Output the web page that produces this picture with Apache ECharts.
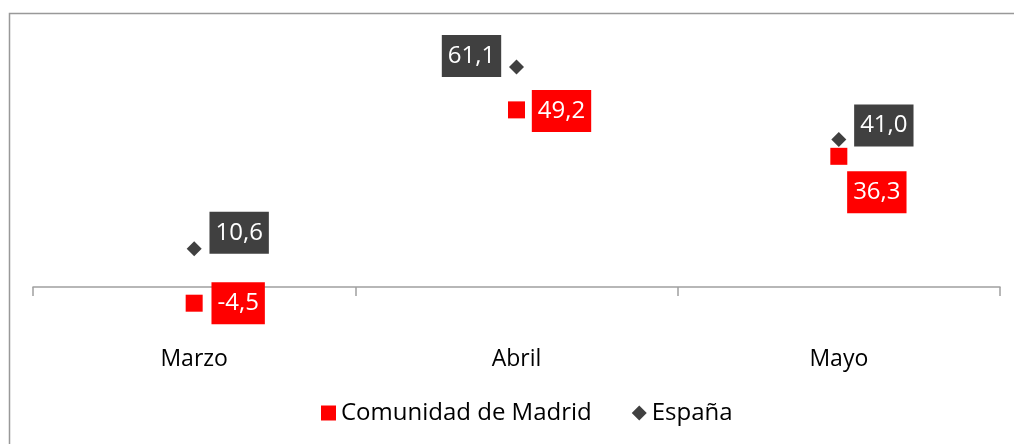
<!DOCTYPE html>
<html>
<head>
    <meta charset="UTF-8">
    <title>Madrid vs España</title>
    <script src="https://cdn.jsdelivr.net/npm/echarts@6/dist/echarts.min.js"></script>
    <style>
        html, body { margin: 0; padding: 0; background: #fff; }
        #chart { width: 1014px; height: 444px; }
    </style>
</head>
<body>
    <div id="chart"></div>

    <script>
        var months = ['Marzo', 'Abril', 'Mayo'];
        var madrid = [-4.5, 49.2, 36.3];
        var espana = [10.6, 61.1, 41.0];

        // where each value label sits, relative to its marker
        var madridLabelOffset = [[44, 0], [45, 1], [38, 36]];
        var espanaLabelOffset = [[45, -16], [-45, -11], [45, -14]];

        function fmt(v) {
            return v.toFixed(1).replace('.', ',');
        }

        function withLabels(values, offsets) {
            return values.map(function (v, i) {
                return { value: v, label: { offset: offsets[i] } };
            });
        }

        var chart = echarts.init(document.getElementById('chart'), null, {renderer: 'canvas'});

        var labelBase = {
            show: true,
            position: 'inside',
            align: 'center',
            verticalAlign: 'middle',
            color: '#fff',
            fontFamily: 'Open Sans',
            fontSize: 24,
            lineHeight: 30,
            padding: [6, 6, 6, 6],
            formatter: function (p) { return fmt(p.value); }
        };

        chart.setOption({
            animation: false,
            textStyle: { fontFamily: 'Open Sans' },
            graphic: [{
                type: 'rect',
                left: 7,
                top: 11,
                shape: { width: 1200, height: 600 },
                style: { fill: 'none', stroke: '#999', lineWidth: 1.5 },
                silent: true
            }],
            grid: { left: 33, right: 14, top: 35, bottom: 103 },
            legend: {
                top: 396,
                left: 316,
                itemGap: 40,
                itemWidth: 15,
                itemHeight: 15,
                textStyle: { fontSize: 24, color: '#000', fontFamily: 'Open Sans' },
                data: [
                    { name: 'Comunidad de Madrid', icon: 'rect', itemStyle: { color: '#ff0000', opacity: 1 } },
                    { name: 'España', icon: 'diamond', itemStyle: { color: '#404040', opacity: 1 } }
                ]
            },
            xAxis: {
                type: 'category',
                data: months,
                axisLine: { onZero: true, lineStyle: { color: '#a0a0a0', width: 1.5 } },
                axisTick: { show: true, length: 9, lineStyle: { color: '#a0a0a0', width: 1.5 } },
                axisLabel: { margin: 7, fontSize: 23, color: '#000' }
            },
            yAxis: {
                type: 'value',
                min: -15,
                max: 70,
                show: false,
                splitLine: { show: false }
            },
            series: [
                {
                    name: 'Comunidad de Madrid',
                    type: 'scatter',
                    symbol: 'rect',
                    symbolSize: 17,
                    itemStyle: { color: '#ff0000', opacity: 1 },
                    label: Object.assign({}, labelBase, { backgroundColor: '#ff0000' }),
                    data: withLabels(madrid, madridLabelOffset)
                },
                {
                    name: 'España',
                    type: 'scatter',
                    symbol: 'diamond',
                    symbolSize: 15,
                    itemStyle: { color: '#404040', opacity: 1 },
                    label: Object.assign({}, labelBase, { backgroundColor: '#404040' }),
                    data: withLabels(espana, espanaLabelOffset)
                }
            ]
        });
    </script>
</body>
</html>
